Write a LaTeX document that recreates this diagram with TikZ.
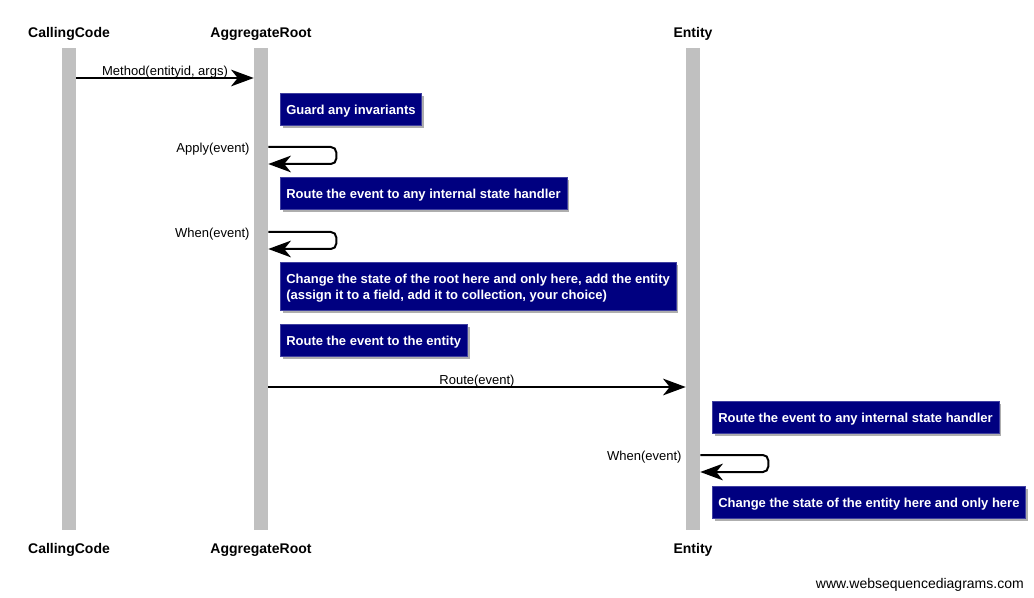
\documentclass[tikz,border=0pt]{standalone}
\usepackage{fontspec}
\setmainfont{Liberation Sans}
\usepackage{tikz}
\usetikzlibrary{arrows.meta,positioning,shadows}
\usepackage{xcolor}
\definecolor{notefill}{RGB}{0,0,128}
\definecolor{barcol}{RGB}{192,192,192}

\tikzset{
	actor/.style={font=\fontsize{10.5}{12}\selectfont\bfseries, inner sep=0pt, anchor=base},
	lifebar/.style={fill=barcol, minimum width=10.5pt, minimum height=361.5pt, inner sep=0pt},
	msg/.style={line width=1.5pt, -{Stealth[length=17pt,width=12.5pt,inset=5pt]}},
	selfmsg/.style={msg, rounded corners=4pt},
	lbl/.style={font=\fontsize{9.75}{11}\selectfont},
	note/.style={fill=notefill, draw=notefill!75!white, line width=0.4pt, text=white,
		font=\fontsize{9.75}{12}\selectfont\bfseries, align=left, inner xsep=4.5pt,
		inner ysep=7pt, minimum height=24pt, anchor=north west, text height=8.3pt, text depth=0pt,
		drop shadow={shadow xshift=2pt, shadow yshift=-2pt, fill=black!45, opacity=0.7}}
}

\begin{document}
\begin{tikzpicture}[x=0.75pt, y=-0.75pt]
			\useasboundingbox (0,0) rectangle (1034,598);
			% lifelines
			\node (ccbar) [lifebar] at (69,289) {};
			\node (arbar) [lifebar] at (261,289) {};
			\node (enbar) [lifebar] at (693,289) {};
			
			\node (cctop) [actor] at (69,38) {CallingCode};
			\node (artop) [actor] at (261,38) {AggregateRoot};
			\node (entop) [actor] at (693,38) {Entity};
			\node (ccbot) [actor] at (69,553) {CallingCode};
			\node (arbot) [actor] at (261,553) {AggregateRoot};
			\node (enbot) [actor] at (693,553) {Entity};
			
			% messages
			\draw [msg] (ccbar.east |- 0,78) -- node [lbl, above=-2pt, inner sep=1pt] {Method(entityid, args)} (arbar.west |- 0,78);
			
			\node (n1) [note] at (280,93) {Guard any invariants};
			
			\draw [selfmsg] (arbar.east |- 0,147) -- ++(68,0) |- (arbar.east |- 0,164);
			\node (apply) [lbl, anchor=east, inner sep=3pt] at (arbar.west |- 0,149) {Apply(event)};
			
			\node (n2) [note] at (280,177) {Route the event to any internal state handler};
			
			\draw [selfmsg] (arbar.east |- 0,232) -- ++(68,0) |- (arbar.east |- 0,249);
			\node (when1) [lbl, anchor=east, inner sep=3pt] at (arbar.west |- 0,234) {When(event)};
			
			\node (n3) [note, text height=21pt, text depth=1pt] at (280,262) {Change the state of the root here and only here, add the entity\\(assign it to a field, add it to collection, your choice)};
			\node (n4) [note] at (280,324) {Route the event to the entity};
			
			\draw [msg] (arbar.east |- 0,387) -- node [lbl, above=-2pt, inner sep=1pt] {Route(event)} (enbar.west |- 0,387);
			
			\node (n5) [note] at (712,401) {Route the event to any internal state handler};
			
			\draw [selfmsg] (enbar.east |- 0,455) -- ++(68,0) |- (enbar.east |- 0,472);
			\node (when2) [lbl, anchor=east, inner sep=3pt] at (enbar.west |- 0,457) {When(event)};
			
			\node (n6) [note] at (712,486) {Change the state of the entity here and only here};
			
			\node (wsd) [font=\fontsize{10.5}{12}\selectfont, anchor=base east, inner sep=0pt] at (1024,588) {www.websequencediagrams.com};
		\end{tikzpicture}
\end{document}
